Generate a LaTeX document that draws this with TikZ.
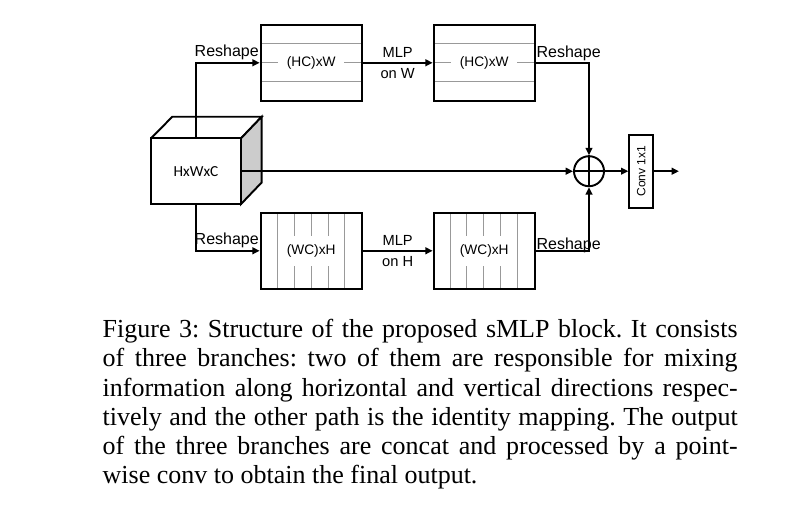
\documentclass[tikz,border=0pt]{standalone}
\usepackage{fontspec}
\setmainfont{Liberation Serif}
\setsansfont{Liberation Sans}
\newfontfamily\cubefont{Carlito}
\usetikzlibrary{arrows.meta}

\tikzset{
  arr/.style={-{Triangle[length=5.5pt,width=5pt]}},
  blk/.style={draw, minimum width=75.75pt, minimum height=57pt, inner sep=0pt},
  grid/.style={draw=black!40, line width=0.75pt},
  dimlbl/.style={fill=white, inner xsep=#1, inner ysep=6.5pt, font=\sffamily\fontsize{10.3}{12}\selectfont},
  rs/.style={inner sep=0pt, font=\sffamily\fontsize{12}{14}\selectfont},
  mlp/.style={font=\sffamily\fontsize{11}{13}\selectfont, inner sep=3.4pt}
}

\begin{document}
\begin{tikzpicture}[x=0.75pt, y=-0.75pt, line width=1.45pt, font=\sffamily]
\useasboundingbox (0,0) rectangle (786,504);

\foreach \x in {260.7,433.3}{
  \foreach \y in {43.8,62.8,81.8}
    \draw[grid] (\x,\y) -- ++(101,0);
  \foreach \k in {1,...,5}
    \draw[grid] (\x+\k*16.83,212.8) -- ++(0,76);
}

\node[dimlbl=6.5pt] (hwt1) at (311.2,62.8) {(HC)xW};
\node[dimlbl=6.5pt] (hwt2) at (484.2,62.8) {(HC)xW};
\node[dimlbl=2.5pt] (wht1) at (311.2,250.8) {(WC)xH};
\node[dimlbl=2.5pt] (wht2) at (484.2,250.8) {(WC)xH};

\node[blk] (hw1) at (311.2,62.8) {};
\node[blk] (hw2) at (484.2,62.8) {};
\node[blk] (wh1) at (311.2,250.8) {};
\node[blk] (wh2) at (484.2,250.8) {};

\node[draw, fill=white, outer sep=0pt, inner sep=0pt, minimum width=67.5pt, minimum height=49.3pt,
  font=\cubefont\fontsize{11.5}{13}\selectfont] (cube) at (196,171.2) {HxWxC};
\draw (cube.north west) -- ++(21.3,-21.6) -- ++(89.4,0) coordinate (cubeback) -- (cube.north east);
\draw[fill=black!20] (cube.north east) -- (cubeback) -- ++(0,65.7) -- (cube.south east) -- cycle;

\node[draw, circle, minimum size=22.5pt, inner sep=0pt] (sum) at (589,171.2) {};
\draw (sum.north) -- (sum.south) (sum.west) -- (sum.east);

\node[draw, rotate=90, minimum width=54.5pt, minimum height=18pt, inner sep=0pt,
  font=\sffamily\fontsize{9}{10}\selectfont] (conv) at (641.3,171.2) {Conv 1x1};
\coordinate (out) at (679,171.2);

\draw[arr] (cube) |- (hw1);
\draw[arr] (cube) |- (wh1);
\draw[arr] (hw1) -- node[mlp, above] (m1) {MLP} node[mlp, below] (o1) {on W} (hw2);
\draw[arr] (wh1) -- node[mlp, above] (m2) {MLP} node[mlp, below] (o2) {on H} (wh2);
\draw[arr] (hw2) -| (sum);
\draw[arr] (wh2) -| (sum);
\draw[arr] (cube) -- (sum);
\draw[arr] (sum) -- (conv);
\draw[arr] (conv) -- (out);

\node[rs, anchor=base east] (r1) at ([yshift=4.5pt]hw1.west) {Reshape};
\node[rs, anchor=base west] (r2) at ([yshift=3.75pt]hw2.east) {Reshape};
\node[rs, anchor=base east] (r3) at ([yshift=4.5pt]wh1.west) {Reshape};
\node[rs, anchor=base west] (r4) at ([yshift=1.3pt]wh2.east) {Reshape};

\node[anchor=north west, inner sep=0pt, text width=476.25pt, align=justify,
  font=\rmfamily\fontsize{19.5}{21.9}\selectfont\frenchspacing] (cap) at (101.7,316.3)
  {\strut Figure 3: Structure of the proposed sMLP block. It consists\linebreak
   of three branches: two of them are responsible for mixing\linebreak
   information along horizontal and vertical directions respec-\linebreak
   tively and the other path is the identity mapping. The output\linebreak
   of the three branches are concat and processed by a point-\linebreak
   wise conv to obtain the final output.};
\end{tikzpicture}
\end{document}
